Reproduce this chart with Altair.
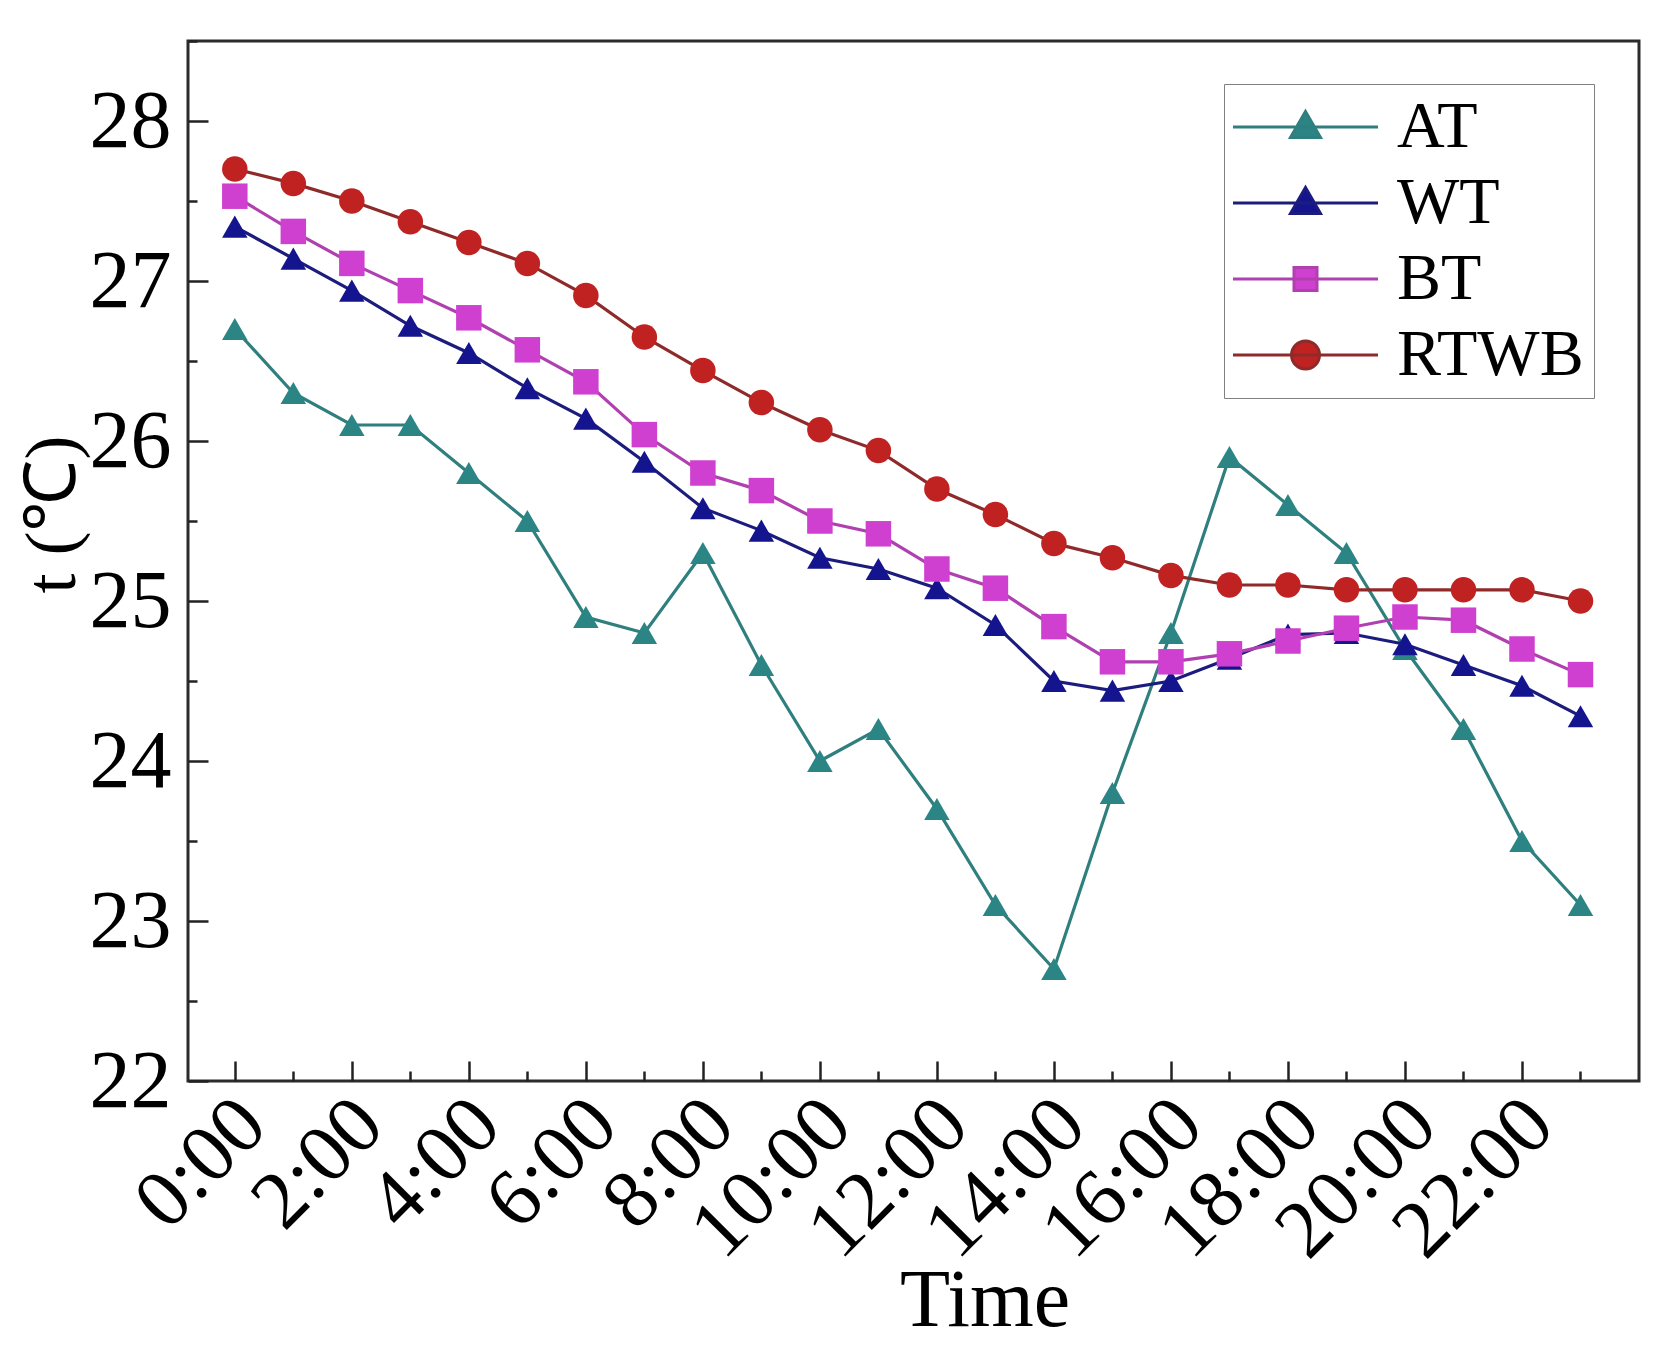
import altair as alt
import pandas as pd

# ---- data ----
hours = list(range(24))
series_names = ["AT", "WT", "BT", "RTWB"]
at = [26.7, 26.3, 26.1, 26.1, 25.8, 25.5, 24.9, 24.8, 25.3, 24.6, 24.0, 24.2,
      23.7, 23.1, 22.7, 23.8, 24.8, 25.9, 25.6, 25.3, 24.7, 24.2, 23.5, 23.1]
wt = [27.34, 27.14, 26.94, 26.72, 26.55, 26.33, 26.14, 25.87, 25.58, 25.44, 25.27, 25.2,
      25.08, 24.85, 24.5, 24.44, 24.5, 24.64, 24.79, 24.8, 24.73, 24.6, 24.47, 24.28]
bt = [27.53, 27.31, 27.11, 26.94, 26.77, 26.57, 26.37, 26.04, 25.8, 25.69, 25.5, 25.42,
      25.2, 25.08, 24.84, 24.62, 24.62, 24.67, 24.75, 24.83, 24.9, 24.88, 24.7, 24.54]
rtwb = [27.7, 27.61, 27.5, 27.37, 27.24, 27.11, 26.91, 26.65, 26.44, 26.24, 26.07, 25.94,
        25.7, 25.54, 25.36, 25.27, 25.16, 25.1, 25.1, 25.07, 25.07, 25.07, 25.07, 25.0]
label_hours = [0, 2, 4, 6, 8, 10, 12, 14, 16, 18, 20, 22]
y_major = [22, 23, 24, 25, 26, 27, 28]
y_ticks = [22, 22.5, 23, 23.5, 24, 24.5, 25, 25.5, 26, 26.5, 27, 27.5, 28, 28.5]

rows = []
for name, vals in zip(series_names, [at, wt, bt, rtwb]):
    for h, v in zip(hours, vals):
        rows.append({"hour": h, "series": name, "t": v})
df = pd.DataFrame(rows)

# ---- styling ----
line_colors = ["#2F7F7F", "#1C1C7E", "#B040B0", "#8E2A2A"]
point_colors = ["#2C8585", "#14148F", "#D040D0", "#C02222"]
shapes = ["triangle-up", "triangle-up", "square", "circle"]
sizes = [650, 650, 440, 540]

# legend glyphs: a line segment with the series marker in its middle
tri = "M-1.7,0H5.55M1.925,-0.78L2.675,0.52L1.175,0.52Z"
sq = "M-1.7,0H5.55M1.35,-0.575H2.5V0.575H1.35Z"
circ = ("M-1.7,0H5.55M1.225,0A0.7,0.7,0,1,1,2.625,0"
        "A0.7,0.7,0,1,1,1.225,0Z")
legend_shapes = [tri, tri, sq, circ]

W, H = 1451, 1040
FONT = "Liberation Serif"

x_scale = alt.Scale(domain=[-0.8, 24], nice=False, zero=False)
y_scale = alt.Scale(domain=[22, 28.5], nice=False, zero=False)

leg = alt.Legend(
    title=None, orient="none", legendX=1036, legendY=43,
    labelFont=FONT, labelFontSize=66, labelColor="black", labelOffset=97,
    labelLimit=600, symbolSize=1600, symbolStrokeWidth=3, symbolOpacity=1,
    strokeColor="#808080", fillColor="white", padding=10, rowPadding=10,
)

lines = alt.Chart(df).mark_line(strokeWidth=3.2).encode(
    x=alt.X("hour:Q", scale=x_scale, axis=alt.Axis(
        orient="bottom", values=label_hours, labelExpr="datum.value + ':00'",
        labelAngle=315, labelFont=FONT, labelFontSize=82, labelColor="black",
        labelPadding=2, labelOffset=-11, labelLimit=500,
        labelOverlap=False, labelFlush=False,
        ticks=False, domain=False, grid=False,
        title="Time", titleFont=FONT, titleFontSize=82, titleFontWeight="normal",
        titleColor="black", titleX=W / 2 + 71, titlePadding=-12)),
    y=alt.Y("t:Q", scale=y_scale, axis=alt.Axis(
        orient="left", values=y_major, labelFont=FONT, labelFontSize=82,
        labelColor="black", labelPadding=17, labelOverlap=False, labelFlush=False,
        ticks=False, domain=False, grid=False,
        title="t (℃)", titleFont=FONT, titleFontSize=72, titleFontWeight="normal",
        titleColor="black", titlePadding=0, titleY=473)),
    stroke=alt.Stroke("series:N", scale=alt.Scale(domain=series_names, range=line_colors),
                      legend=None),
)

points = alt.Chart(df).mark_point(filled=True, opacity=1).encode(
    x=alt.X("hour:Q", scale=x_scale, axis=alt.Axis(
        orient="top", offset=-H, values=hours, labels=False, domain=False, grid=False,
        tickSize={"condition": {"test": "datum.value % 2 === 0", "value": 20}, "value": 10},
        tickWidth=2.5, tickColor="#222222", title=None)),
    y=alt.Y("t:Q", scale=y_scale, axis=alt.Axis(
        orient="right", offset=-W, values=y_ticks, labels=False, domain=False, grid=False,
        tickSize={"condition": {"test": "datum.value % 1 === 0", "value": 20}, "value": 9},
        tickWidth=2.5, tickColor="#222222", title=None)),
    fill=alt.Fill("series:N", scale=alt.Scale(domain=series_names, range=point_colors),
                  legend=None),
    shape=alt.Shape("series:N", scale=alt.Scale(domain=series_names, range=shapes),
                    legend=None),
    size=alt.Size("series:O", scale=alt.Scale(domain=series_names, range=sizes),
                  legend=None),
)

legend_layer = alt.Chart(df).transform_filter("datum.hour < 0").mark_point(
    filled=True, opacity=1, size=1600, strokeWidth=3
).encode(
    x=alt.X("hour:Q", scale=x_scale, axis=None),
    y=alt.Y("t:Q", scale=y_scale, axis=None),
    fill=alt.Fill("series:N", scale=alt.Scale(domain=series_names, range=point_colors),
                  legend=leg),
    stroke=alt.Stroke("series:N", scale=alt.Scale(domain=series_names, range=line_colors),
                      legend=leg),
    shape=alt.Shape("series:N", scale=alt.Scale(domain=series_names, range=legend_shapes),
                    legend=leg),
)

chart = alt.layer(lines, points, legend_layer).resolve_axis(
    x="independent", y="independent"
).resolve_scale(
    fill="independent", stroke="independent", shape="independent", size="independent"
).properties(
    width=W, height=H,
    padding={"left": 8, "top": 31, "right": 10, "bottom": 4},
    background="white",
).configure_view(stroke="#2b2b2b", strokeWidth=3)

chart.save("out.html", embed_options={"renderer": "svg", "actions": False})
